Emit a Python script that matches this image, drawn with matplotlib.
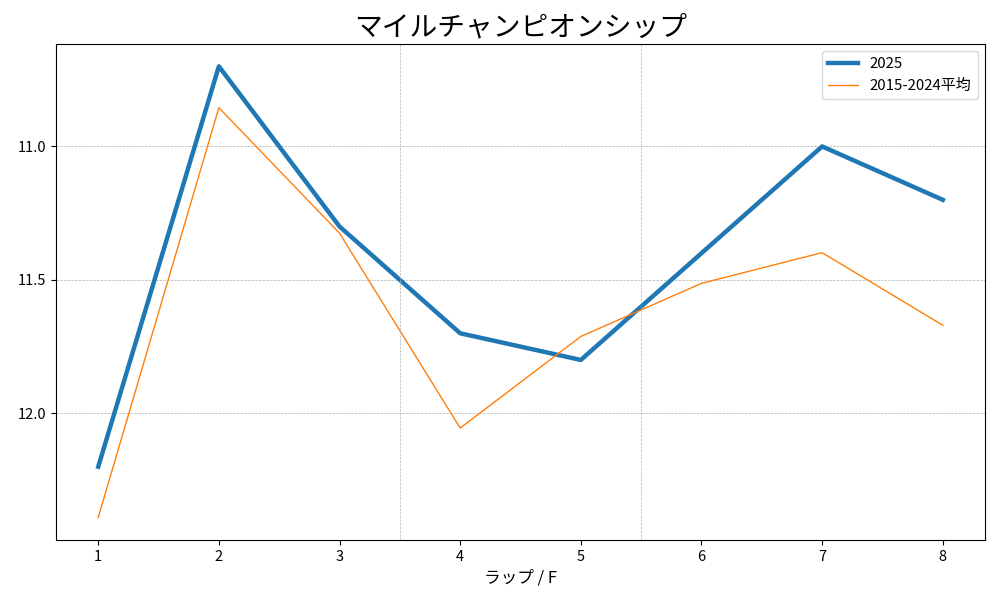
import matplotlib
matplotlib.use("Agg")
import matplotlib.pyplot as plt

plt.rcParams['font.family'] = ['Noto Sans CJK JP', 'DejaVu Sans']

laps = [1, 2, 3, 4, 5, 6, 7, 8]
y2025 = [12.2, 10.7, 11.3, 11.7, 11.8, 11.4, 11.0, 11.2]
avg = [12.39, 10.855, 11.325, 12.055, 11.712, 11.513, 11.398, 11.67]
vlines = [3.5, 5.5]

fig, ax = plt.subplots(figsize=(10, 6), dpi=100)
ax.plot(laps, y2025, color='#1f77b4', linewidth=3.2, label='2025')
ax.plot(laps, avg, color='#ff7f0e', linewidth=1.0, label='2015-2024平均')
ax.invert_yaxis()
ax.set_yticks([11.0, 11.5, 12.0])
ax.set_xticks(laps)
ax.tick_params(labelsize=10.5)
ax.yaxis.grid(True, linestyle='--', linewidth=0.5, color='#b0b0b0')
for v in vlines:
    ax.axvline(v, linestyle='--', linewidth=0.5, color='#b0b0b0')
ax.set_title('マイルチャンピオンシップ', fontsize=20)
ax.set_xlabel('ラップ / F', fontsize=12)
ax.legend(loc='upper right', fontsize=10.8)
fig.subplots_adjust(left=0.056, right=0.985, top=0.927, bottom=0.1)
fig.savefig('out.png')
